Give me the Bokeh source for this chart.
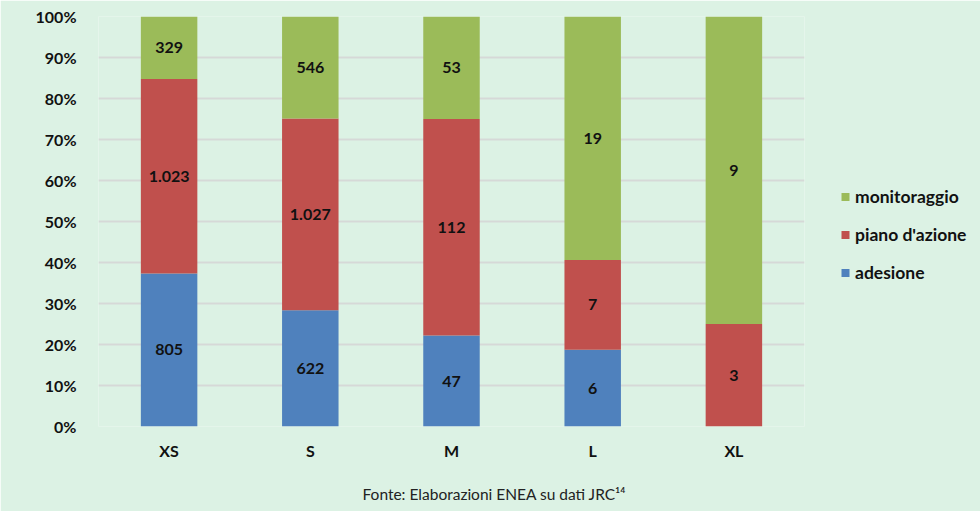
from bokeh.plotting import figure
from bokeh.models import (ColumnDataSource, FactorRange, Legend, LegendItem,
                          NumeralTickFormatter, FixedTicker, Title)
from bokeh.core.properties import value
from bokeh.embed import file_html
from bokeh.resources import INLINE

categories = ["XS", "S", "M", "L", "XL"]
adesione = [805, 622, 47, 6, 0]
piano = [1023, 1027, 112, 7, 3]
monitoraggio = [329, 546, 53, 19, 9]
series_names = ["adesione", "piano d'azione", "monitoraggio"]
colors = ["#4F81BD", "#C0504D", "#9BBB59"]
y_ticks = [i / 10 for i in range(11)]
footer = "Fonte: Elaborazioni ENEA su dati JRC\u00b9\u2074"

BG = "#DCF2E4"
FONT = "Lato"

series = [adesione, piano, monitoraggio]
totals = [sum(v) for v in zip(*series)]
keys = ["s0", "s1", "s2"]
data = {"cat": categories}
for k, s in zip(keys, series):
    data[k] = [v / t for v, t in zip(s, totals)]
src = ColumnDataSource(data)

p = figure(x_range=FactorRange(*categories, range_padding=0), y_range=(0, 1),
           frame_width=706, frame_height=410, output_backend="svg",
           toolbar_location=None,
           min_border_left=98, min_border_right=168, min_border_top=16,
           min_border_bottom=76)
p.background_fill_color = BG
p.border_fill_color = BG
p.outline_line_color = None

renderers = p.vbar_stack(keys, x="cat", width=0.4, color=colors, source=src,
                         line_color=None)

# labels
lx, ly, lt = [], [], []
for i, c in enumerate(categories):
    base = 0.0
    for s in series:
        frac = s[i] / totals[i]
        if s[i] > 0:
            lx.append(c)
            ly.append(base + frac / 2)
            lt.append(f"{s[i]:,}".replace(",", "."))
        base += frac
lsrc = ColumnDataSource(dict(x=lx, y=ly, t=lt))
p.text(x="x", y="y", text="t", source=lsrc, text_align="center",
       text_baseline="middle", text_font=value(FONT), text_font_style="bold",
       text_font_size="16px", text_color="#111111")

p.xgrid.grid_line_color = None
p.ygrid.grid_line_color = "#D6D9D7"
p.ygrid.grid_line_width = 2
p.ygrid.ticker = FixedTicker(ticks=y_ticks)

p.yaxis.ticker = FixedTicker(ticks=y_ticks)
p.yaxis.formatter = NumeralTickFormatter(format="0%")
for ax in (p.xaxis[0], p.yaxis[0]):
    ax.axis_line_color = None
    ax.major_tick_line_color = None
    ax.minor_tick_line_color = None
    ax.major_label_text_font = FONT
    ax.major_label_text_font_style = "bold"
    ax.major_label_text_font_size = "16px"
    ax.major_label_text_color = "#111111"
p.yaxis.major_label_standoff = 16
p.xaxis.major_label_standoff = 8

items = [LegendItem(label=series_names[i], renderers=[renderers[i]]) for i in (2, 1, 0)]
legend = Legend(items=items, location="center_left", margin=26,
                background_fill_alpha=0,
                border_line_alpha=0, glyph_width=10, glyph_height=10,
                label_standoff=5, label_height=20, spacing=17,
                title=" ", title_text_font_size="14px", title_standoff=10,
                label_text_font=FONT, label_text_font_style="bold",
                label_text_font_size="17.5px", label_text_color="#111111")
p.add_layout(legend, "right")

p.add_layout(Title(text=footer, align="left", offset=264, standoff=40,
                   text_font=FONT, text_font_style="normal",
                   text_font_size="15.5px", text_color="#222222"), "below")

open("out.html", "w").write(file_html(p, INLINE))
